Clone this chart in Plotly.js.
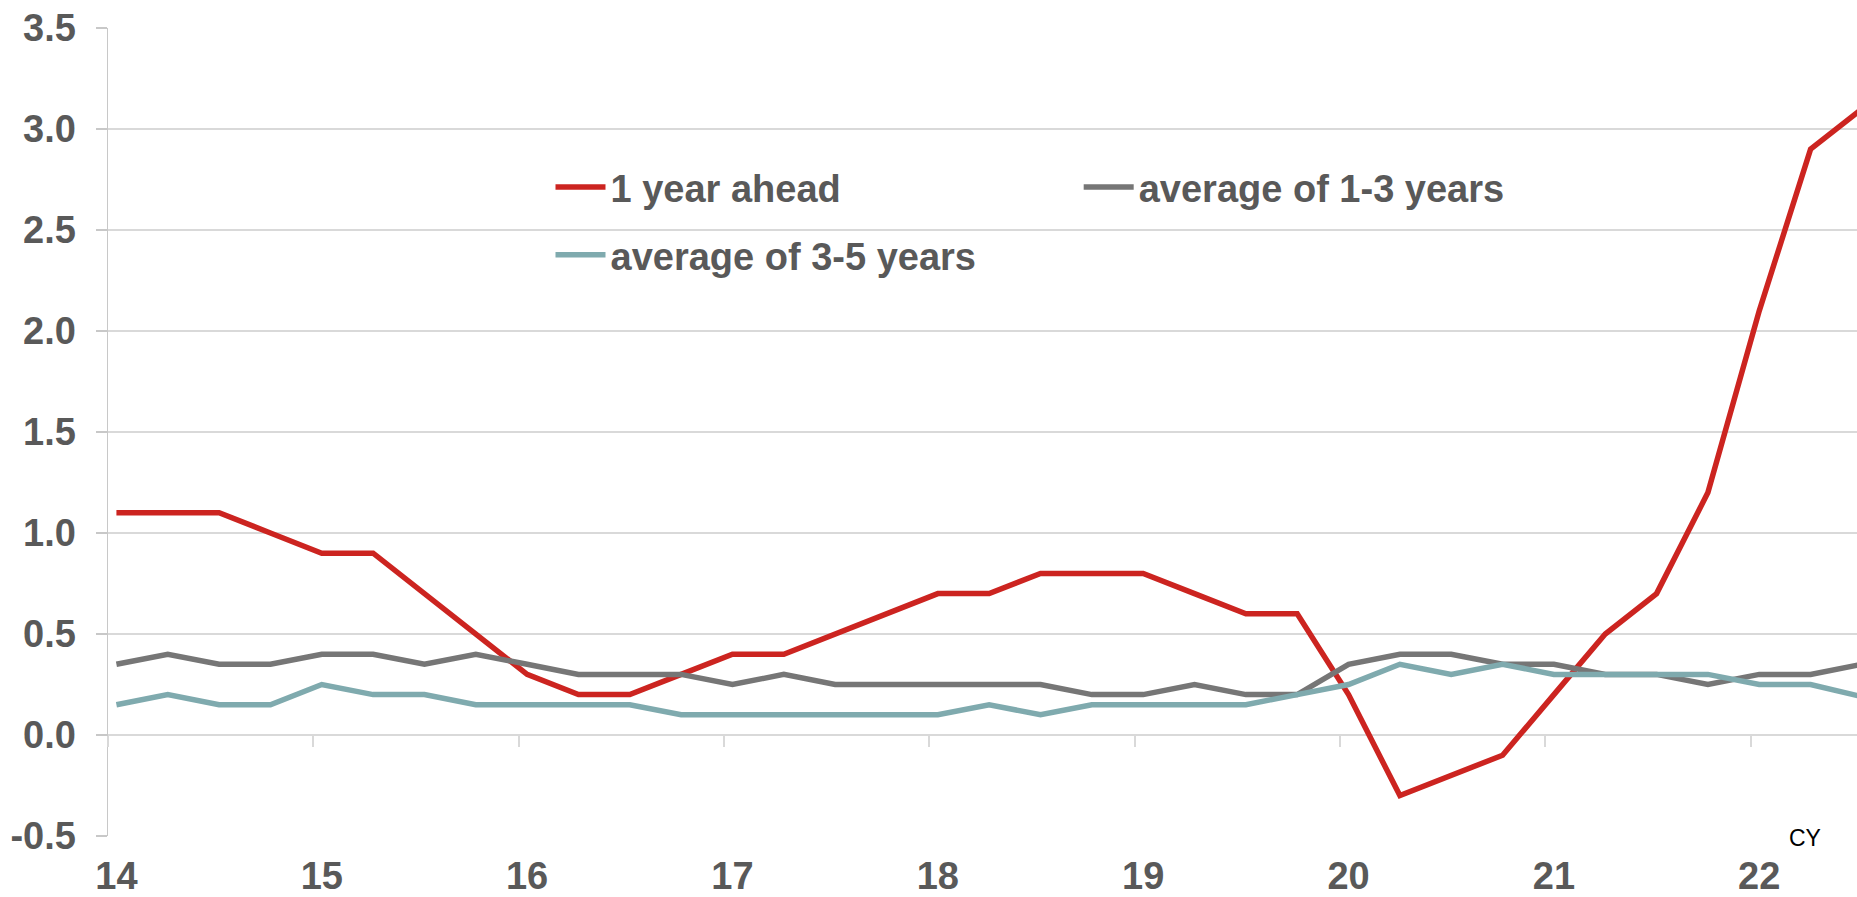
<!DOCTYPE html>
<html>
<head>
<meta charset="utf-8">
<script src="https://cdn.plot.ly/plotly-3.0.1.min.js"></script>
<style>
  html, body { margin: 0; padding: 0; background: #ffffff; }
  #chart { width: 1857px; height: 897px; }
</style>
</head>
<body>
<div id="chart"></div>
<script>
// ---- Data (quarterly, calendar years) ----
const quarters = [
  2014.00, 2014.25, 2014.50, 2014.75,
  2015.00, 2015.25, 2015.50, 2015.75,
  2016.00, 2016.25, 2016.50, 2016.75,
  2017.00, 2017.25, 2017.50, 2017.75,
  2018.00, 2018.25, 2018.50, 2018.75,
  2019.00, 2019.25, 2019.50, 2019.75,
  2020.00, 2020.25, 2020.50, 2020.75,
  2021.00, 2021.25, 2021.50, 2021.75,
  2022.00, 2022.25, 2022.50
];
const oneYearAhead = [
  1.1, 1.1, 1.1, 1.0,
  0.9, 0.9, 0.7, 0.5,
  0.3, 0.2, 0.2, 0.3,
  0.4, 0.4, 0.5, 0.6,
  0.7, 0.7, 0.8, 0.8,
  0.8, 0.7, 0.6, 0.6,
  0.2, -0.3, -0.2, -0.1,
  0.2, 0.5, 0.7, 1.2,
  2.1, 2.9, 3.1
];
const avg1to3 = [
  0.35, 0.40, 0.35, 0.35,
  0.40, 0.40, 0.35, 0.40,
  0.35, 0.30, 0.30, 0.30,
  0.25, 0.30, 0.25, 0.25,
  0.25, 0.25, 0.25, 0.20,
  0.20, 0.25, 0.20, 0.20,
  0.35, 0.40, 0.40, 0.35,
  0.35, 0.30, 0.30, 0.25,
  0.30, 0.30, 0.35
];
const avg3to5 = [
  0.15, 0.20, 0.15, 0.15,
  0.25, 0.20, 0.20, 0.15,
  0.15, 0.15, 0.15, 0.10,
  0.10, 0.10, 0.10, 0.10,
  0.10, 0.15, 0.10, 0.15,
  0.15, 0.15, 0.15, 0.20,
  0.25, 0.35, 0.30, 0.35,
  0.30, 0.30, 0.30, 0.30,
  0.25, 0.25, 0.19
];
const seriesNames = ['1 year ahead', 'average of 1-3 years', 'average of 3-5 years'];
const tickYears = [2014, 2015, 2016, 2017, 2018, 2019, 2020, 2021, 2022];
const tickYearLabels = ['14', '15', '16', '17', '18', '19', '20', '21', '22'];
const yTickValues = [-0.5, 0.0, 0.5, 1.0, 1.5, 2.0, 2.5, 3.0, 3.5];
const yTickLabels = ['-0.5', '0.0', '0.5', '1.0', '1.5', '2.0', '2.5', '3.0', '3.5'];
const axisNote = 'CY';

// ---- Styles ----
const FONT = 'Liberation Sans, Arial, sans-serif';
const TXT = '#595959';
const GRID = '#d9d9d9';
const colors = ['#cc2420', '#767676', '#7faaae'];
const FS = 38;
const legendFont = { family: FONT, size: FS, color: TXT, weight: 'bold' };

const traces = [
  { x: quarters, y: oneYearAhead, name: seriesNames[0], legend: 'legend' },
  { x: quarters, y: avg1to3, name: seriesNames[1], legend: 'legend2' },
  { x: quarters, y: avg3to5, name: seriesNames[2], legend: 'legend3' }
].map((t, i) => Object.assign(t, {
  type: 'scatter', mode: 'lines',
  line: { color: colors[i], width: 5.5, shape: 'linear' },
  hoverinfo: 'x+y+name'
}));
// empty carrier trace for the zero-line axis (ticks at y=0)
traces.unshift({ x: [], y: [], xaxis: 'x2', yaxis: 'y', showlegend: false, hoverinfo: 'skip', type: 'scatter', mode: 'lines' });

const xRange = [2013.959, 2022.476];

const layout = {
  width: 1857, height: 897,
  paper_bgcolor: '#ffffff', plot_bgcolor: '#ffffff',
  margin: { l: 108, r: 0, t: 28, b: 61, pad: 0 },
  showlegend: true,
  xaxis: {
    range: xRange, showgrid: false, zeroline: false, showline: false,
    tickmode: 'array', tickvals: tickYears, ticktext: tickYearLabels,
    ticks: 'outside', ticklen: 6, tickcolor: 'rgba(0,0,0,0)',
    tickfont: { family: FONT, size: FS, color: TXT, weight: 'bold' },
    fixedrange: true
  },
  xaxis2: {
    range: xRange, overlaying: 'x', anchor: 'free', position: 0.125,
    showgrid: false, zeroline: false,
    showline: true, linecolor: GRID, linewidth: 2,
    tickmode: 'array', tickvals: tickYears.map(v => v - 0.041),
    ticks: 'outside', ticklen: 11, tickwidth: 2, tickcolor: GRID,
    showticklabels: false, layer: 'below traces', fixedrange: true
  },
  yaxis: {
    range: [-0.5, 3.5], tickmode: 'array', tickvals: yTickValues, ticktext: yTickLabels,
    showgrid: true, gridcolor: GRID, gridwidth: 2, zeroline: false,
    showline: true, linecolor: '#c8c8c8', linewidth: 1.5,
    ticks: 'outside', ticklen: 11, tickwidth: 1.5, tickcolor: '#c8c8c8',
    ticklabelstandoff: 12,
    tickfont: { family: FONT, size: FS, color: TXT, weight: 'bold' },
    layer: 'below traces', fixedrange: true
  },
  legend: {
    x: 0.253, y: 0.803, xanchor: 'left', yanchor: 'middle',
    bgcolor: 'rgba(0,0,0,0)', borderwidth: 0, font: legendFont, itemwidth: 50
  },
  legend2: {
    x: 0.555, y: 0.803, xanchor: 'left', yanchor: 'middle',
    bgcolor: 'rgba(0,0,0,0)', borderwidth: 0, font: legendFont, itemwidth: 50
  },
  legend3: {
    x: 0.253, y: 0.719, xanchor: 'left', yanchor: 'middle',
    bgcolor: 'rgba(0,0,0,0)', borderwidth: 0, font: legendFont, itemwidth: 50
  },
  annotations: [{
    text: axisNote, xref: 'paper', yref: 'paper', x: 0.970, y: -0.003,
    xanchor: 'center', yanchor: 'middle', showarrow: false,
    font: { family: FONT, size: 23, color: '#000000' }
  }]
};

Plotly.newPlot('chart', traces, layout, { displayModeBar: false, staticPlot: true });
</script>
</body>
</html>
